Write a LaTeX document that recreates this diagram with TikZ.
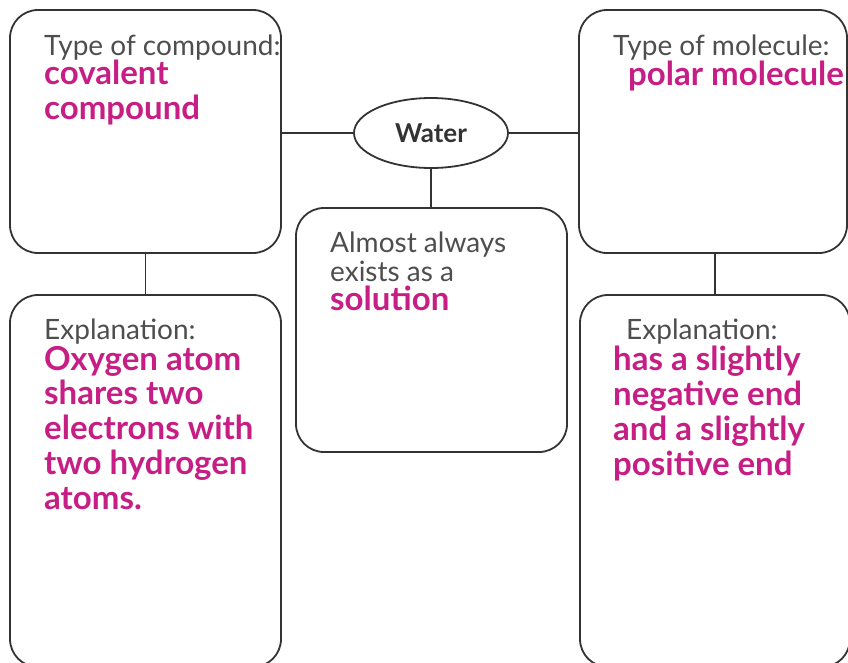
\documentclass[tikz,border=0pt]{standalone}
\usepackage{fontspec}
\setmainfont{Lato}
\usetikzlibrary{shapes.geometric}
\definecolor{inkline}{RGB}{51,51,51}
\definecolor{inkgray}{RGB}{78,78,78}
\definecolor{inkpink}{RGB}{198,30,132}
\tikzset{
  card/.style={draw=inkline,line width=1.8pt,rounded corners=28pt,inner sep=0pt},
  hub/.style={draw=inkline,line width=1.8pt,ellipse,minimum width=154pt,minimum height=70pt,
    inner sep=0pt,font=\fontsize{26}{28}\selectfont\bfseries,text=inkline},
  kind/.style={anchor=base west,inner sep=0pt,align=left,text=inkgray,
    font=\fontsize{28}{29}\selectfont},
  fact/.style={anchor=base west,inner sep=0pt,align=left,text=inkpink,
    font=\fontsize{33}{34.7}\selectfont\bfseries},
  link/.style={draw=inkline,line width=1.8pt}
}
\begin{document}
\begin{tikzpicture}[x=1pt,y=-1pt]
    \useasboundingbox (0,0) rectangle (848,662);
    \clip (0,0) rectangle (848,662);
    % --- the four cards round the hub ---
    \node[card,minimum width=271pt,minimum height=243pt] (typeL) at (145.5,131.5) {};
    \node[card,minimum width=271pt,minimum height=372pt] (explL) at (145.5,481) {};
    \node[card,minimum width=268pt,minimum height=243pt] (typeR) at (713,131.5) {};
    \node[card,minimum width=270pt,minimum height=372pt] (explR) at (715,481) {};
    \node[card,minimum width=271pt,minimum height=244pt] (state) at (431.5,330) {};
    \node[hub] (water) at (431,133) {Water};
    % connectors
    \draw[link] (water.west) -- (water.west -| typeL.east);
    \draw[link] (water.east) -- (water.east -| typeR.west);
    \draw[link] (water.south) -- (water.south |- state.north);
    \draw[link] (typeL.south) -- (typeL.south |- explL.north);
    \draw[link] (explR.north) -- (explR.north |- typeR.south);
    % texts (anchored on the baseline of their last line)
    \node[kind] (typeLhead) at (44,55) {Type of compound:};
    \node[fact] (typeLtext) at (44,119) {covalent\\compound};
    \node[kind] (typeRhead) at (613,55) {Type of molecule:};
    \node[fact] (typeRtext) at (628,85) {polar molecule};
    \node[kind] (statetext) at (330,310)
      {Almost always\\exists as a\\{\color{inkpink}\fontsize{33}{29}\selectfont\bfseries solution}};
    \node[kind] (explLhead) at (44,339) {Explanation:};
    \node[fact] (explLtext) at (44,509)
      {Oxygen atom\\shares two\\electrons with\\two hydrogen\\atoms.};
    \node[kind] (explRhead) at (626,339) {Explanation:};
    \node[fact] (explRtext) at (613,475)
      {has a slightly\\negative end\\and a slightly\\positive end};
\end{tikzpicture}
\end{document}
